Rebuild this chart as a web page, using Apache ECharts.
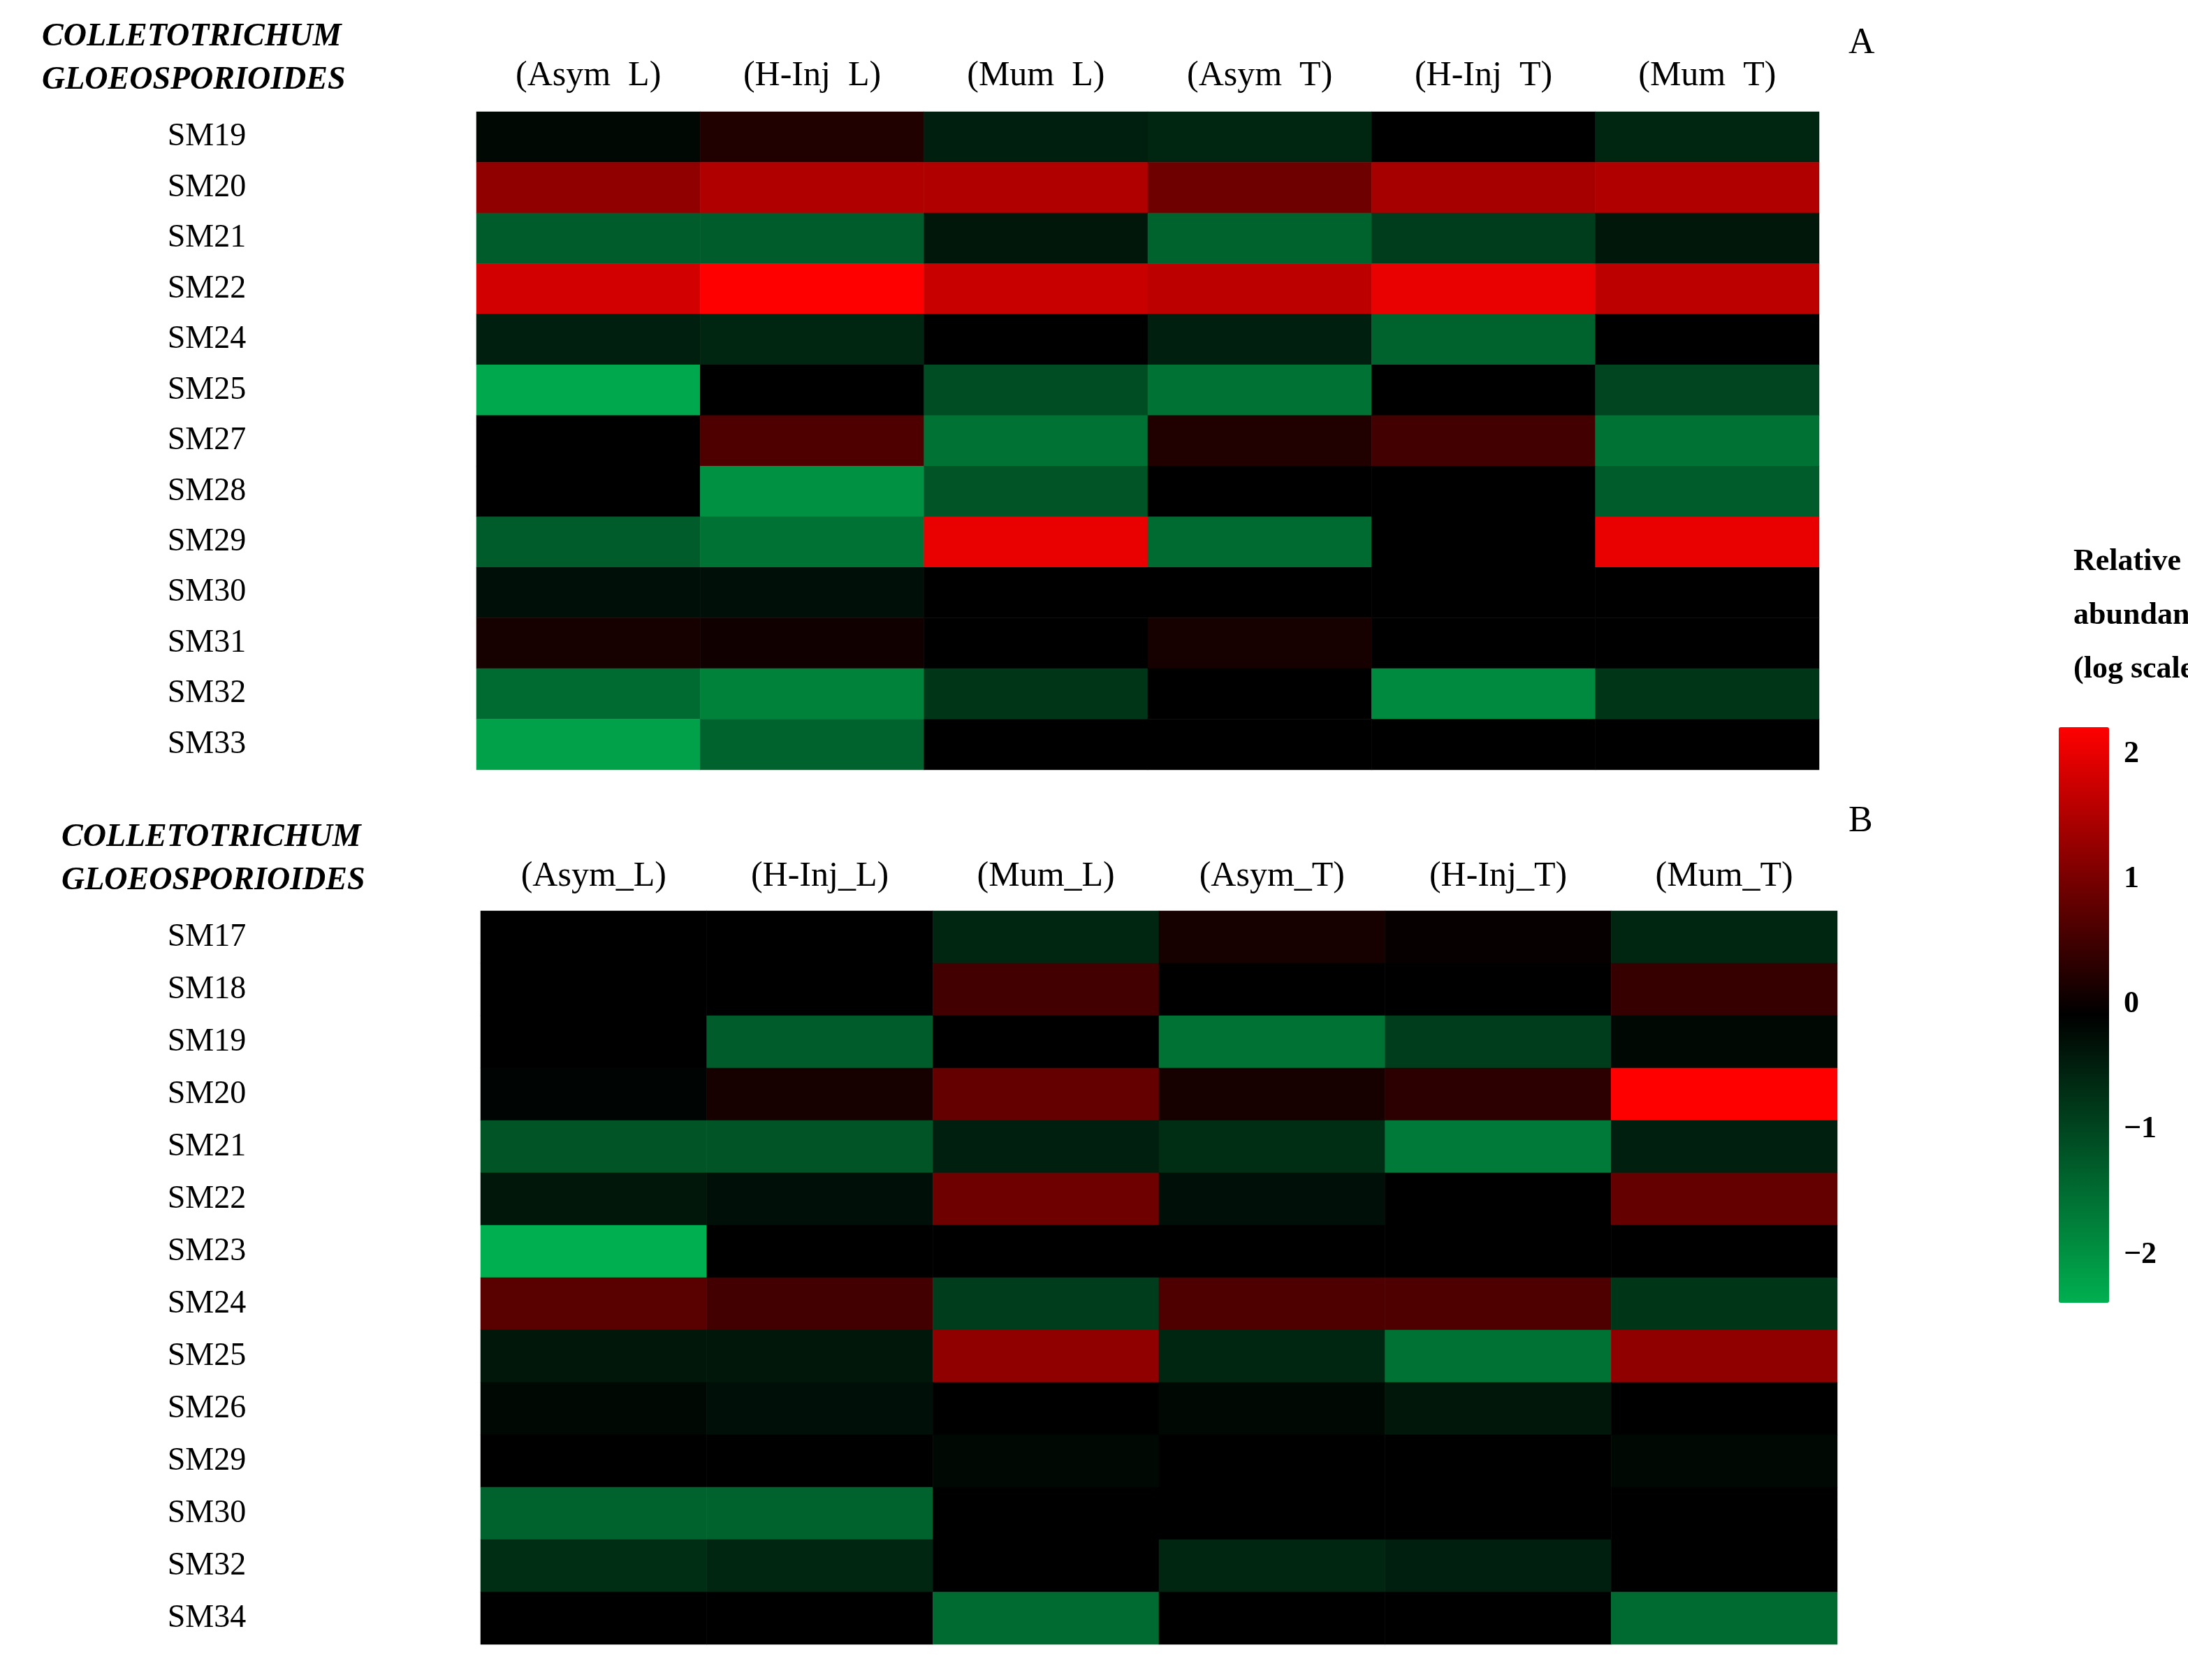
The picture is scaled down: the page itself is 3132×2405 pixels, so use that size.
<!DOCTYPE html>
<html><head><meta charset="utf-8">
<script src="https://cdn.jsdelivr.net/npm/echarts@6/dist/echarts.min.js"></script>
<style>html,body{margin:0;background:#fff}#c{width:3132px;height:2405px}</style>
</head><body><div id="c"></div>
<script>
const colsA = ['(Asym  L)','(H-Inj  L)','(Mum  L)','(Asym  T)','(H-Inj  T)','(Mum  T)'];
const colsB = ['(Asym_L)','(H-Inj_L)','(Mum_L)','(Asym_T)','(H-Inj_T)','(Mum_T)'];
const rowsA = ['SM19','SM20','SM21','SM22','SM24','SM25','SM27','SM28','SM29','SM30','SM31','SM32','SM33'];
const rowsB = ['SM17','SM18','SM19','SM20','SM21','SM22','SM23','SM24','SM25','SM26','SM29','SM30','SM32','SM34'];
const valsA = [
 [-0.1,0.3,-0.4,-0.5,0,-0.5],
 [1.3,1.6,1.6,1.0,1.5,1.6],
 [-1.2,-1.2,-0.3,-1.3,-0.8,-0.3],
 [1.9,2.3,1.8,1.7,2.1,1.7],
 [-0.4,-0.5,0,-0.4,-1.3,0],
 [-2.2,0,-1.0,-1.5,0,-0.9],
 [0,0.7,-1.5,0.3,0.6,-1.5],
 [0,-1.9,-1.1,0,0,-1.2],
 [-1.2,-1.5,2.1,-1.4,0,2.1],
 [-0.2,-0.2,0,0,0,0],
 [0.2,0.15,0,0.2,0,0],
 [-1.4,-1.7,-0.7,0,-1.8,-0.7],
 [-2.1,-1.3,0,0,0,0]
];
const valsB = [
 [0,0,-0.5,0.2,0.05,-0.5],
 [0,0,0.6,0,0,0.5],
 [0,-1.2,0,-1.5,-0.8,-0.1],
 [-0.05,0.2,0.9,0.2,0.4,2.3],
 [-1.1,-1.1,-0.4,-0.6,-1.6,-0.4],
 [-0.3,-0.2,1.0,-0.2,0,0.9],
 [-2.3,0,0,0,0,0],
 [0.8,0.6,-0.8,0.7,0.7,-0.7],
 [-0.3,-0.3,1.3,-0.5,-1.5,1.3],
 [-0.1,-0.2,0,-0.1,-0.3,0],
 [0,0,-0.1,0,0,-0.1],
 [-1.3,-1.3,0,0,0,0],
 [-0.6,-0.5,0,-0.5,-0.4,0],
 [0,0,-1.4,0,0,-1.4]
];
const scaleTicks = [2,1,0,-1,-2];
const F = 'Liberation Serif, Times New Roman, serif';
function flat(v){const o=[];v.forEach((r,i)=>r.forEach((x,j)=>o.push([j,i,x])));return o;}
const txt = (left,top,text,extra)=>({type:'text',left,top,style:Object.assign({text,font:'bold italic 46px '+F,fill:'#000'},extra||{})});
const chart = echarts.init(document.getElementById('c'));
chart.setOption({
 backgroundColor:'#fff', animation:false,
 grid:[
  {left:682,top:160,width:1922,height:942},
  {left:688,top:1304,width:1942,height:1050},
  {left:2932,top:1026,width:72,height:824}
 ],
 xAxis:[
  {gridIndex:0,type:'category',data:colsA,position:'top',axisLine:{show:false},axisTick:{show:false},axisLabel:{fontFamily:F,fontSize:50,color:'#000',margin:26}},
  {gridIndex:1,type:'category',data:colsB,position:'top',axisLine:{show:false},axisTick:{show:false},axisLabel:{fontFamily:F,fontSize:50,color:'#000',margin:24}},
  {gridIndex:2,type:'value',show:false}
 ],
 yAxis:[
  {gridIndex:0,type:'category',data:rowsA,inverse:true,axisLine:{show:false},axisTick:{show:false},axisLabel:{fontFamily:F,fontSize:46,color:'#000',align:'center',margin:386}},
  {gridIndex:1,type:'category',data:rowsB,inverse:true,axisLine:{show:false},axisTick:{show:false},axisLabel:{fontFamily:F,fontSize:46,color:'#000',align:'center',margin:392}},
  {gridIndex:2,type:'value',min:-2.3,max:2.3,position:'right',interval:1,axisLine:{show:false},axisTick:{show:false},splitLine:{show:false},
   axisLabel:{fontFamily:F,fontSize:44,fontWeight:'bold',color:'#000',margin:36,
     customValues:scaleTicks,formatter:v=>String(v).replace('-','\u2212')}}
 ],
 visualMap:{type:'continuous',min:-2.3,max:2.3,dimension:2,calculable:false,seriesIndex:[0,1],
  inRange:{color:['#00b050','#000000','#ff0000']},left:2932,top:1026,itemWidth:72,itemHeight:824,text:['',''],showLabel:false},
 series:[
  {type:'heatmap',xAxisIndex:0,yAxisIndex:0,data:flat(valsA),itemStyle:{borderWidth:0}},
  {type:'heatmap',xAxisIndex:1,yAxisIndex:1,data:flat(valsB),itemStyle:{borderWidth:0}}
 ],
 graphic:[
  txt(60,30,'COLLETOTRICHUM'), txt(60,92,'GLOEOSPORIOIDES'),
  txt(88,1176,'COLLETOTRICHUM'), txt(88,1238,'GLOEOSPORIOIDES'),
  {type:'text',left:2646,top:36,style:{text:'A',font:'52px '+F,fill:'#000'}},
  {type:'text',left:2646,top:1150,style:{text:'B',font:'52px '+F,fill:'#000'}},
  {type:'text',left:2968,top:766,style:{text:'Relative\nabundance\n(log scale)',font:'bold 44px '+F,fill:'#000',align:'center',lineHeight:77}}
 ]
});
</script></body></html>
